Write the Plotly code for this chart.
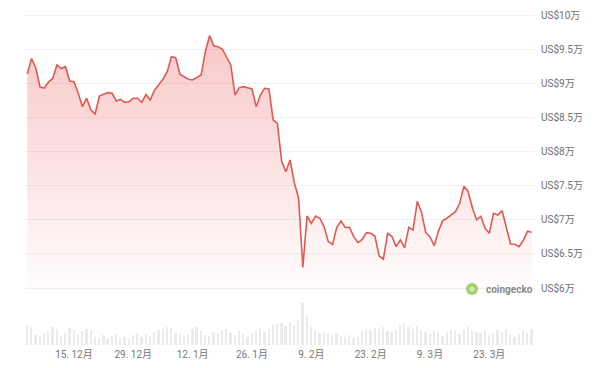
import pandas as pd
import plotly.graph_objects as go

# Daily price (USD), starting 2024-12-04
start_date = "2024-12-04"
prices = [
    91350, 93630, 92240, 89450, 89300, 90180, 90700, 92680, 92160, 92430,
    90330, 90230, 88570, 86570, 87800, 86080, 85500, 88130, 88380, 88620,
    88530, 87400, 87650, 87210, 87300, 87800, 87800, 87210, 88350, 87550,
    89000, 89850, 90580, 91690, 93890, 93740, 91310, 90960, 90580, 90480,
    90810, 91210, 94620, 96970, 95500, 95360, 95020, 93890, 92680, 88280,
    89350, 89500, 89350, 89160, 86570, 88300, 89260, 89160, 84620, 84130,
    78610, 77040, 78760, 75390, 73190, 63010, 70550, 69480, 70550, 70220,
    68990, 66820, 66380, 68870, 69820, 68870, 68900, 67520, 66640, 67110,
    68110, 68020, 67620, 64690, 64250, 67990, 67580, 66060, 67040, 65870,
    68900, 68500, 72710, 71070, 68110, 67520, 66190, 68360, 69870, 70220,
    70700, 71180, 72410, 74900, 74110, 71730, 69970, 70510, 68750, 68020,
    70950, 70700, 71330, 68990, 66450, 66410, 66060, 66960, 68310, 68170,
]
# Daily volume (relative units)
volumes = [
    2.0, 1.8, 1.0, 0.8, 1.2, 1.4, 1.8, 1.6, 0.9, 1.2, 1.7, 1.5,
    1.0, 1.4, 1.6, 1.5, 0.8, 0.7, 1.0, 0.6, 0.9, 1.1, 0.7, 0.8,
    0.6, 1.0, 1.2, 0.8, 1.1, 0.9, 1.3, 1.5, 1.6, 1.8, 1.7, 1.2,
    1.0, 0.8, 1.1, 1.6, 1.8, 1.4, 1.0, 0.9, 1.3, 1.2, 1.5, 1.6,
    1.2, 1.0, 1.4, 1.1, 0.8, 1.2, 1.5, 1.7, 1.3, 1.6, 2.0, 2.1,
    2.2, 1.9, 2.3, 2.0, 2.5, 4.2, 3.0, 1.8, 1.4, 1.2, 1.3, 1.1,
    1.0, 1.2, 0.9, 0.8, 1.0, 0.7, 0.8, 1.4, 1.6, 1.5, 1.7, 1.6,
    1.8, 1.4, 1.3, 1.5, 2.0, 2.2, 1.8, 1.6, 1.9, 1.5, 1.3, 1.1,
    1.4, 1.2, 0.9, 1.3, 1.5, 1.4, 1.1, 1.6, 1.8, 1.5, 1.3, 1.2,
    1.4, 1.0, 1.2, 1.5, 1.3, 1.6, 1.0, 0.8, 1.1, 1.4, 1.2, 1.6,
]
x_tick_dates = ["2024-12-15", "2024-12-29", "2025-01-12", "2025-01-26",
                "2025-02-09", "2025-02-23", "2025-03-09", "2025-03-23"]
x_tick_labels = ["15. 12月", "29. 12月", "12. 1月", "26. 1月",
                 "9. 2月", "23. 2月", "9. 3月", "23. 3月"]
y_tick_vals = [60000, 65000, 70000, 75000, 80000, 85000, 90000, 95000, 100000]
y_tick_labels = ["US$6万", "US$6.5万", "US$7万", "US$7.5万", "US$8万",
                 "US$8.5万", "US$9万", "US$9.5万", "US$10万"]

dates = pd.date_range(start_date, periods=len(prices), freq="D")

FONT = "Roboto, 'Noto Sans CJK SC', sans-serif"
LINE = "#df5a52"

fig = go.Figure()
fig.add_trace(go.Bar(
    x=dates, y=volumes, xaxis="x", yaxis="y2",
    marker=dict(color="#ebebeb", line=dict(width=0)),
    width=0.42 * 86400000, showlegend=False, hoverinfo="skip",
))
fig.add_trace(go.Scatter(
    x=dates, y=prices, xaxis="x", yaxis="y", mode="lines",
    line=dict(color=LINE, width=1.6),
    fill="tozeroy",
    fillgradient=dict(type="vertical",
                      colorscale=[[0, "rgba(234,80,80,0.0)"],
                                  [1, "rgba(234,80,80,0.32)"]],
                      start=58000, stop=97500),
    showlegend=False,
))

fig.update_layout(
    width=600, height=368,
    margin=dict(l=0, r=0, t=0, b=0),
    paper_bgcolor="white", plot_bgcolor="white",
    bargap=0,
    font=dict(family=FONT, size=10, color="#6f6f6f"),
    xaxis=dict(
        type="date", domain=[24 / 600, 535 / 600], anchor="y2",
        range=["2024-12-03 05:17", "2025-04-02 18:30"],
        tickvals=x_tick_dates, ticktext=x_tick_labels,
        showgrid=False, zeroline=False, showline=False, ticks="",
        tickfont=dict(size=10, color="#777777"),
        ticklabelstandoff=2,
    ),
    yaxis=dict(
        domain=[68 / 368, 1], anchor="x", side="right",
        range=[58242, 102198],
        tickvals=y_tick_vals, ticktext=y_tick_labels,
        showgrid=True, gridcolor="#f1f1f1", gridwidth=1,
        zeroline=False, showline=False, ticks="",
        tickfont=dict(size=10, color="#6f6f6f"),
        ticklabelstandoff=5,
    ),
    yaxis2=dict(
        domain=[23 / 368, 68 / 368], anchor="x",
        range=[0, 4.5], visible=False,
    ),
    shapes=[
        dict(type="circle", xref="paper", yref="paper",
             x0=466 / 600, x1=478 / 600, y0=(368 - 295) / 368, y1=(368 - 283) / 368,
             fillcolor="#a3d06b", line=dict(width=0), layer="above"),
        dict(type="circle", xref="paper", yref="paper",
             x0=469.5 / 600, x1=474.5 / 600, y0=(368 - 291.5) / 368, y1=(368 - 286.5) / 368,
             fillcolor="#d9eea6", line=dict(width=0), layer="above"),
    ],
    annotations=[
        dict(text="<b>coingecko</b>", xref="paper", yref="paper",
             x=484 / 600, y=(368 - 289) / 368, xanchor="left", yanchor="middle",
             showarrow=False, font=dict(family=FONT, size=10, color="#8a8a8a")),
    ],
)

fig.write_html("out.html")
